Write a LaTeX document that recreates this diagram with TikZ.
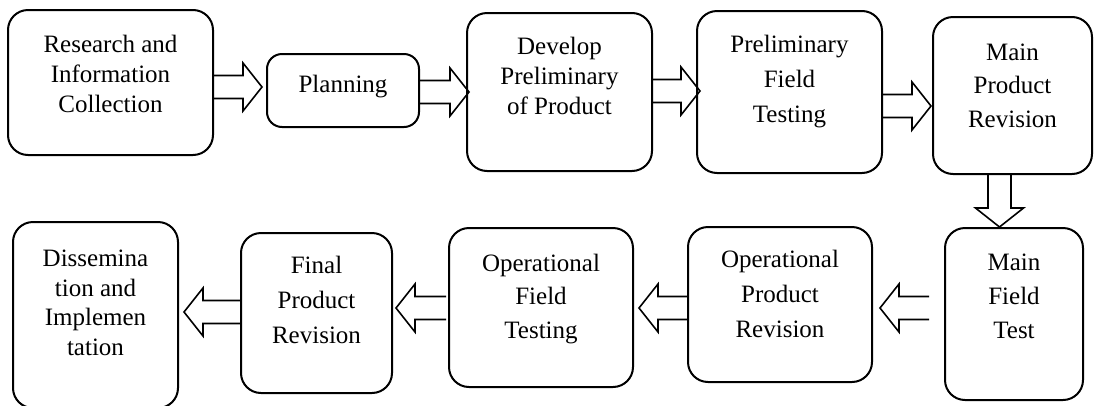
\documentclass[tikz,border=0pt]{standalone}
\usepackage{fontspec}
\setmainfont{Liberation Serif}
\usetikzlibrary{calc}
\def\baW{11.5pt}
\def\baH{24pt}
\def\baL{19pt}
\tikzset{
  box/.style={draw, line width=2pt, rounded corners=20pt, inner sep=0pt},
  txt/.style={inner sep=0pt, align=center, anchor=base, font=\fontsize{25}{#1}\selectfont},
  barrow/.style={draw, line width=1.6pt, line join=miter, to path={
    let \p1=(\tikztostart), \p2=(\tikztotarget),
        \n1={veclen(\x2-\x1,\y2-\y1)},
        \n2={(\x2-\x1)/\n1}, \n3={(\y2-\y1)/\n1}
    in ({\x1-\n3*\baW},{\y1+\n2*\baW})
    -- ({\x2-\n2*\baL-\n3*\baW},{\y2-\n3*\baL+\n2*\baW})
    -- ({\x2-\n2*\baL-\n3*\baH},{\y2-\n3*\baL+\n2*\baH})
    -- (\tikztotarget)
    -- ({\x2-\n2*\baL+\n3*\baH},{\y2-\n3*\baL-\n2*\baH})
    -- ({\x2-\n2*\baL+\n3*\baW},{\y2-\n3*\baL-\n2*\baW})
    -- ({\x1+\n3*\baW},{\y1-\n2*\baW})}}
}
\begin{document}
\begin{tikzpicture}[x=1pt,y=-1pt]
\useasboundingbox (0,0) rectangle (1096,405);
\clip (0,0) rectangle (1096,405);
% boxes
\node[box, minimum width=205pt, minimum height=145pt] (b1) at (110.5,82.5) {};
\node[box, rounded corners=15pt, minimum width=152pt, minimum height=73pt] (b2) at (343,90.5) {};
\node[box, minimum width=185pt, minimum height=158pt] (b3) at (559.5,92) {};
\node[box, minimum width=185pt, minimum height=162pt] (b4) at (789.5,92) {};
\node[box, minimum width=159pt, minimum height=157pt] (b5) at (1012.5,95.5) {};
\node[box, minimum width=138pt, minimum height=172pt] (b6) at (1014,314) {};
\node[box, minimum width=184pt, minimum height=155pt] (b7) at (780,304.5) {};
\node[box, minimum width=184pt, minimum height=159pt] (b8) at (541,307.5) {};
\node[box, minimum width=151pt, minimum height=160pt] (b9) at (316.5,313) {};
\node[box, minimum width=165pt, minimum height=186pt] (b10) at (95.5,315) {};
% texts (anchor = baseline of the last line)
\node[txt=30] (t1) at (110.5,112) {Research and\\Information\\Collection};
\node[txt=30] (t2) at (343,92) {Planning};
\node[txt=30] (t3) at (559.5,114) {Develop\\Preliminary\\of Product};
\node[txt=35] (t4) at (789.5,122) {Preliminary\\Field\\Testing};
\node[txt=33.5] (t5) at (1012.5,127) {Main\\Product\\Revision};
\node[txt=34] (t6) at (1014,338) {Main\\Field\\Test};
\node[txt=35] (t7) at (780,337) {Operational\\Product\\Revision};
\node[txt=33.5] (t8) at (541,338) {Operational\\Field\\Testing};
\node[txt=35] (t9) at (316.5,343) {Final\\Product\\Revision};
\node[txt=29.5] (t10) at (95.5,355) {Dissemina\\tion and\\Implemen\\tation};
% block arrows
\draw[barrow] (b1.east |- 0,87) to ($(b2.west |- 0,87)+(-4,0)$);
\draw[barrow] (b2.east |- 0,92) to ($(b3.west |- 0,92)+(3,0)$);
\draw[barrow] (b3.east |- 0,91) to ($(b4.west |- 0,91)+(4,0)$);
\draw[barrow] (b4.east |- 0,106) to ($(b5.west |- 0,106)+(-1,0)$);
\draw[barrow] (b5.south -| 999.5,0) to (b6.north -| 999.5,0);
\draw[barrow] ($(b6.west |- 0,308)+(-15,0)$) to ($(b7.east |- 0,308)+(7,0)$);
\draw[barrow] (b7.west |- 0,308) to ($(b8.east |- 0,308)+(5,0)$);
\draw[barrow] ($(b8.west |- 0,308)+(-2,0)$) to ($(b9.east |- 0,308)+(3,0)$);
\draw[barrow] (b9.west |- 0,312) to ($(b10.east |- 0,312)+(5,0)$);
\end{tikzpicture}
\end{document}
